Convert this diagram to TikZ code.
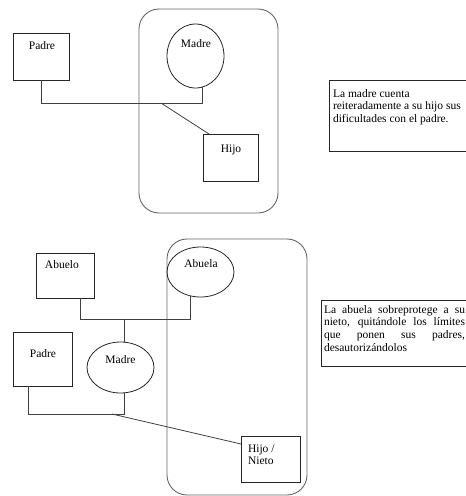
\documentclass[tikz,border=0pt]{standalone}
\usepackage{fontspec}
\setmainfont{Liberation Serif}
\usetikzlibrary{shapes.geometric,calc}
\newcommand{\notepar}[2]{\parbox[t]{#1}{\fontsize{11.5}{12.8}\selectfont\hyphenpenalty=10000 \exhyphenpenalty=10000 \tolerance=10000 \hbadness=10000 \parindent=0pt #2}}
\begin{document}
\begin{tikzpicture}[x=1pt,y=-1pt,
  every node/.style={inner sep=0pt, outer sep=0pt},
  box/.style={draw=black!85, line width=0.8pt, rectangle, anchor=north west},
  oval/.style={draw=black!85, line width=0.8pt, ellipse},
  container/.style={draw=black!60, line width=0.9pt, rounded corners=20pt, rectangle, anchor=north west},
  conn/.style={draw=black!75, line width=0.8pt},
  lbl/.style={font=\fontsize{11.5}{12.8}\selectfont, anchor=base},
  note/.style={anchor=base west},
  notebox/.style={draw=black!85, line width=0.8pt, rectangle, anchor=north west}]
\useasboundingbox (0,0) rectangle (466,496);
\clip (0,0) rectangle (466,496);

% ---------- top diagram ----------
\node[container, minimum width=139pt, minimum height=204pt] (contA) at (139,9) {};
\node[box, minimum width=56pt, minimum height=47pt] (padreA) at (13,33) {};
\node[lbl] (padreAt) at (42,49) {Padre};
\node[oval, minimum width=57pt, minimum height=64pt] (madreA) at (195.5,56) {};
\node[lbl] (madreAt) at (196,47) {Madre};
\node[box, minimum width=55pt, minimum height=47pt] (hijoA) at (203,134) {};
\node[lbl] (hijoAt) at (231,152) {Hijo};
\coordinate (jA) at (161,103);
\draw[conn] (padreA.south) -- ++(0,23) -| (madreA.282);
\draw[conn] (jA) -- ($(hijoA.north west)+(6,0)$);

\node[notebox, minimum width=150pt, minimum height=71pt] (noteA) at (329,80) {};
\node[note] (noteAt) at (333,97)
  {\notepar{150pt}{\raggedright La madre cuenta\\reiteradamente a su hijo sus\\dificultades con el padre.}};

% ---------- bottom diagram ----------
\node[container, minimum width=140pt, minimum height=256pt] (contB) at (167,239) {};
\node[box, minimum width=58pt, minimum height=45pt] (abuelo) at (36,253) {};
\node[lbl, anchor=base west] (abueloT) at (45,268) {Abuelo};
\node[oval, minimum width=67pt, minimum height=50pt] (abuela) at (200.5,272) {};
\node[lbl] (abuelaT) at (201,267) {Abuela};
\node[box, minimum width=59pt, minimum height=54pt] (padreB) at (13,332) {};
\node[lbl] (padreBt) at (43,357) {Padre};
\node[oval, minimum width=67pt, minimum height=51pt] (madreB) at (120.5,367.5) {};
\node[lbl] (madreBt) at (120.5,363) {Madre};
\node[box, minimum width=59pt, minimum height=46pt] (hn) at (241,436) {};
\node[note] (hnT) at (248,452) {\notepar{50pt}{\raggedright Hijo /\\Nieto}};

\coordinate (jB) at (124,319);
\coordinate (jC) at (112,414);
\draw[conn] ($(abuelo.south)+(15,0)$) -- ++(0,21) -| (abuela.246);
\draw[conn] (jB) -- (jB |- madreB.north);
\draw[conn] ($(padreB.south)+(-14.5,0)$) -- ++(0,28) -| (jB |- madreB.south);
\draw[conn] (jC) -- ($(hn.north west)+(0,8)$);

\node[notebox, minimum width=160pt, minimum height=66pt] (noteB) at (321,300) {};
\node[note] (noteBt) at (324,313)
  {\notepar{141pt}{La abuela sobreprotege a su\linebreak nieto, quitándole los límites\linebreak que ponen sus padres,\linebreak desautorizándolos}};
\end{tikzpicture}
\end{document}
